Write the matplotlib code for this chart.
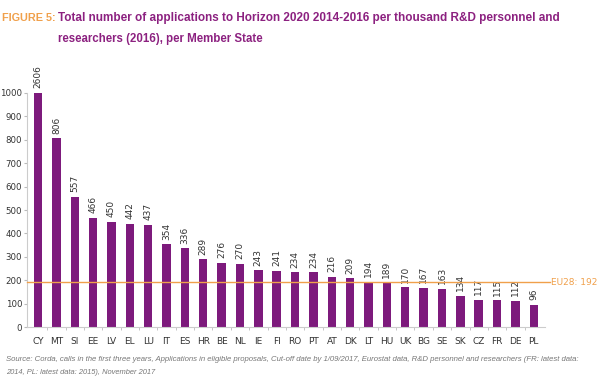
import numpy as np
import matplotlib
matplotlib.use("Agg")
import matplotlib.pyplot as plt

# Data
countries = ["CY", "MT", "SI", "EE", "LV", "EL", "LU", "IT", "ES", "HR", "BE", "NL", "IE", "FI",
             "RO", "PT", "AT", "DK", "LT", "HU", "UK", "BG", "SE", "SK", "CZ", "FR", "DE", "PL"]
applications = [2606, 806, 557, 466, 450, 442, 437, 354, 336, 289, 276, 270, 243, 241,
                234, 234, 216, 209, 194, 189, 170, 167, 163, 134, 117, 115, 112, 96]
eu28 = 192

purple = "#7d1a7c"
orange = "#f0a04b"
title_purple = "#8c2180"

fig = plt.figure(figsize=(6, 3.84), dpi=100)
ax = fig.add_axes([0.045, 0.148, 0.863, 0.61])

x = np.arange(len(countries))
ax.bar(x, applications, width=0.46, color=purple, zorder=2)
ax.set_ylim(0, 1000)
ax.set_xlim(-0.6, len(countries) - 0.4)

for xi, v in zip(x, applications):
    ax.text(xi, min(v, 1000) + 20, str(v), rotation=90, ha="center", va="bottom",
            fontsize=6.5, color="#333333", clip_on=False)

# EU28 average line, extended a bit past the axes
ax.axhline(eu28, xmin=0, xmax=1.01, color=orange, lw=1.0, zorder=3, clip_on=False)
ax.text(len(countries) - 0.4 + 0.35, eu28, "EU28: 192", color=orange, fontsize=6.5,
        va="center", ha="left")

ax.set_xticks(x)
ax.set_xticklabels(countries, fontsize=6.5, color="#333333")
ax.set_xticks(x[:-1] + 0.5, minor=True)
ax.tick_params(axis="x", which="major", length=0, pad=7)
ax.tick_params(axis="x", which="minor", length=2, color="#bbbbbb")
ax.set_yticks(range(0, 1001, 100))
ax.tick_params(axis="y", labelsize=6.2, labelcolor="#333333", length=2, color="#bbbbbb", pad=1.5)

for s in ["top", "right"]:
    ax.spines[s].set_visible(False)
for s in ["left", "bottom"]:
    ax.spines[s].set_color("#cccccc")
    ax.spines[s].set_linewidth(0.8)


def fit_text(xf, yf, s, width_px, size, **kw):
    # shrink the text so that it spans about width_px pixels
    t = fig.text(xf, yf, s, fontsize=size, **kw)
    r = fig.canvas.get_renderer()
    w = t.get_window_extent(renderer=r).width
    t.set_fontsize(size * width_px / w)
    return t


tfont = dict(family="Liberation Sans", fontweight="bold", va="center")
fit_text(0.003, 0.952, "FIGURE 5:", 54, 10, color=orange, **tfont)
fit_text(0.097, 0.952, "Total number of applications to Horizon 2020 2014-2016 per thousand R&D personnel and",
         500, 10, color=title_purple, **tfont)
fit_text(0.097, 0.898, "researchers (2016), per Member State", 205, 10, color=title_purple, **tfont)

# Source note
nfont = dict(family="Liberation Sans", style="italic", color="#777777", va="center")
fit_text(0.010, 0.065, "Source: Corda, calls in the first three years, Applications in eligible proposals, "
         "Cut-off date by 1/09/2017, Eurostat data, R&D personnel and researchers (FR: latest data:",
         580, 6, **nfont)
fit_text(0.010, 0.030, "2014, PL: latest data: 2015), November 2017", 150, 6, **nfont)

fig.savefig("out.png", dpi=100)
